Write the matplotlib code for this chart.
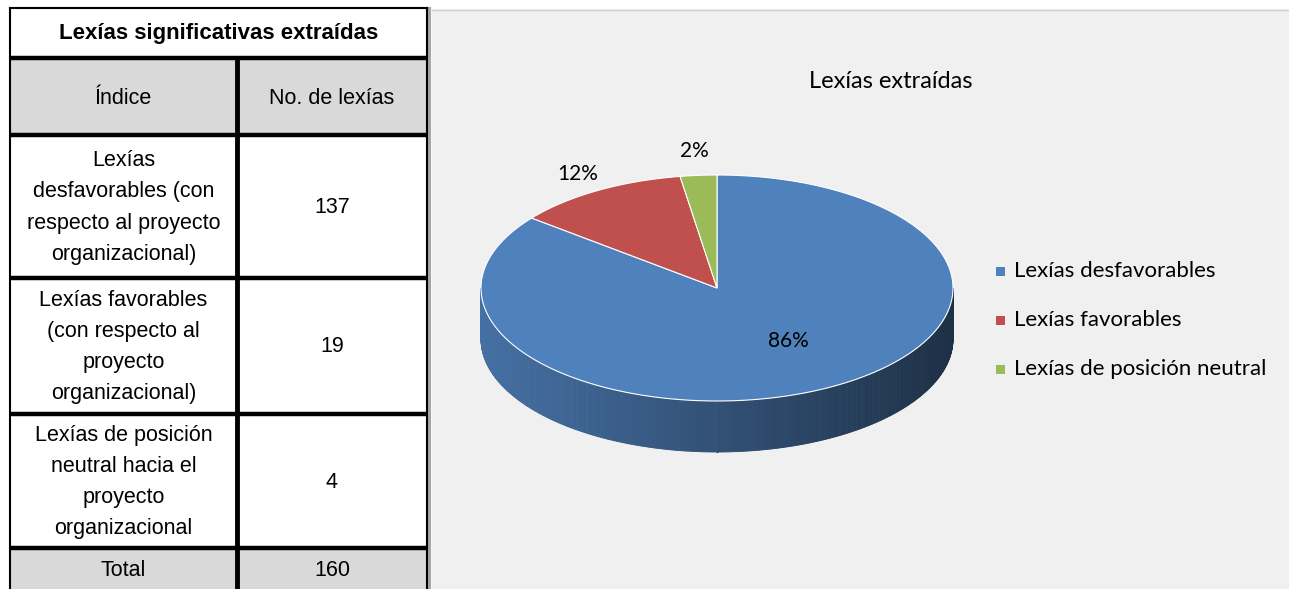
import numpy as np
import matplotlib
matplotlib.use('Agg')
import matplotlib.pyplot as plt
from matplotlib.patches import Rectangle

# ---- data ----
row_labels = ['Lexías\ndesfavorables (con\nrespecto al proyecto\norganizacional)',
              'Lexías favorables\n(con respecto al\nproyecto\norganizacional)',
              'Lexías de posición\nneutral hacia el\nproyecto\norganizacional']
counts = [137, 19, 4]
legend_labels = ['Lexías desfavorables', 'Lexías favorables', 'Lexías de posición neutral']
slice_colors = ['#4f81bd', '#c0504d', '#9bbb59']
table_title = 'Lexías significativas extraídas'
col_headers = ['Índice', 'No. de lexías']
chart_title = 'Lexías extraídas'

W, H = 1289, 589
fig = plt.figure(figsize=(W / 100, H / 100), dpi=100)
fig.patch.set_facecolor('white')
ax = fig.add_axes([0, 0, 1, 1])
ax.set_xlim(0, W)
ax.set_ylim(H, 0)
ax.axis('off')

# ---- chart background ----
ax.add_patch(Rectangle((432, 9), W - 432, H - 9, facecolor='#f0f0f0', edgecolor='none', zorder=0))
ax.plot([429, 429], [9, H], color='#a6a6a6', lw=3, zorder=1)
ax.plot([432, W], [9.5, 9.5], color='#d0d0d0', lw=1, zorder=1)

# ---- table ----
tfont = 'Liberation Sans'
fs = 15.5
x0, xc, x1 = 10, 237, 427
row_y = [8, 58, 135, 278, 414, 548, H + 2]
fills = ['white', '#d9d9d9', 'white', 'white', 'white', '#d9d9d9']
for i in range(len(row_y) - 1):
    ax.add_patch(Rectangle((x0, row_y[i]), x1 - x0, row_y[i + 1] - row_y[i],
                           facecolor=fills[i], edgecolor='none', zorder=1))
for y in row_y[1:-1]:
    ax.plot([x0, x1], [y, y], color='black', lw=3.2, zorder=3, solid_capstyle='butt')
ax.plot([x0, x1], [8, 8], color='black', lw=1.5, zorder=3)
ax.plot([x0, x0], [8, H], color='black', lw=1.5, zorder=3)
ax.plot([x1, x1], [8, H], color='black', lw=1.5, zorder=3)
ax.plot([xc, xc], [58, H], color='black', lw=3.5, zorder=3)

ax.text((x0 + x1) / 2, 33, table_title, ha='center', va='center', fontsize=16,
        fontweight='bold', family=tfont, zorder=4)
ax.text((x0 + xc) / 2, 98, col_headers[0], ha='center', va='center', fontsize=fs, family=tfont, zorder=4)
ax.text((xc + x1) / 2, 98, col_headers[1], ha='center', va='center', fontsize=fs, family=tfont, zorder=4)
for i, (lab, n) in enumerate(zip(row_labels, counts)):
    yc = (row_y[i + 2] + row_y[i + 3]) / 2 + 1
    ax.text((x0 + xc) / 2, yc, lab, ha='center', va='center', fontsize=fs, family=tfont,
            linespacing=1.63, zorder=4)
    ax.text((xc + x1) / 2, yc, str(n), ha='center', va='center', fontsize=fs, family=tfont, zorder=4)
ax.text((x0 + xc) / 2, 571, 'Total', ha='center', va='center', fontsize=fs, family=tfont, zorder=4)
ax.text((xc + x1) / 2, 571, str(sum(counts)), ha='center', va='center', fontsize=fs, family=tfont, zorder=4)

# ---- 3D pie ----
cfont = 'Lato'
cx, cy, rx, ry, depth = 717, 288, 236, 113, 51
total = sum(counts)
fracs = [c / total for c in counts]
edges = 90 - 360 * np.concatenate([[0], np.cumsum(fracs)])


def pt(t, dy=0):
    r = np.radians(t)
    return cx + rx * np.cos(r), cy - ry * np.sin(r) + dy


# side (front half only), shaded strips
for i, col in enumerate(slice_colors):
    a, b = edges[i + 1], edges[i]
    base = np.array(matplotlib.colors.to_rgb(col))
    for k in (-1, 0, 1):
        lo, hi = max(a, -180 + 360 * k), min(b, 360 * k)
        if hi <= lo:
            continue
        ts = np.linspace(lo, hi, int((hi - lo) * 2) + 2)
        for t0, t1 in zip(ts[:-1], ts[1:]):
            fac = 0.62 - 0.25 * np.cos(np.radians((t0 + t1) / 2))
            c = np.clip(base * fac, 0, 1)
            xa, ya = pt(t0)
            xb, yb = pt(t1)
            ax.fill([xa, xb, xb, xa], [ya, yb, yb + depth, ya + depth],
                    color=c, lw=0.6, ec=c, zorder=5)

# top face
for i, col in enumerate(slice_colors):
    a, b = edges[i + 1], edges[i]
    ts = np.linspace(a, b, 200)
    xs, ys = pt(ts)
    ax.fill(np.r_[cx, xs], np.r_[cy, ys], color=col, ec='white', lw=0.8, zorder=6)

# data labels
label_r = [0.6, 1.17, 1.22]
for i, fr in enumerate(fracs):
    mid = (edges[i] + edges[i + 1]) / 2
    r = np.radians(mid)
    lx = cx + label_r[i] * rx * np.cos(r) + (10 if i == 0 else 0)
    ly = cy - label_r[i] * ry * np.sin(r) - (8 if i == 0 else 0)
    ax.text(lx, ly, f'{fr * 100:.0f}%', ha='center', va='center', fontsize=15,
            family=cfont, color='black', zorder=7)

ax.text(891, 82, chart_title, ha='center', va='center', fontsize=17, family=cfont, zorder=7)

# legend
for i, (lab, col) in enumerate(zip(legend_labels, slice_colors)):
    ly = 271 + i * 49
    ax.add_patch(Rectangle((996, ly - 4.5), 9, 9, facecolor=col, edgecolor='none', zorder=7))
    ax.text(1014, ly, lab, ha='left', va='center', fontsize=16, family=cfont, zorder=7)

fig.savefig('out.png', dpi=100, facecolor=fig.get_facecolor())
